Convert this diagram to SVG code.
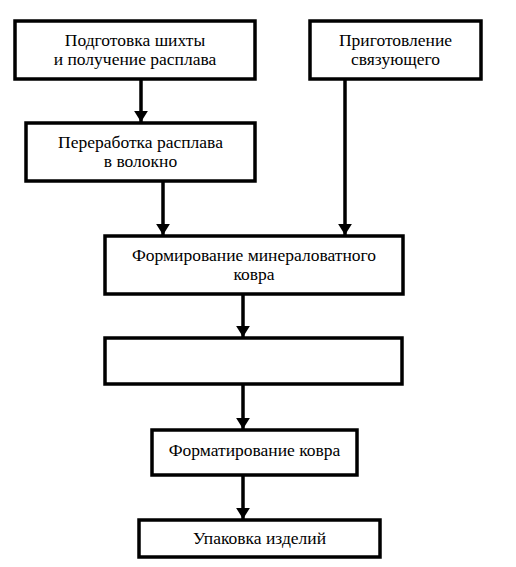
<svg xmlns="http://www.w3.org/2000/svg" width="516" height="567" viewBox="0 0 516 567">
<style>
.box{fill:#fff;stroke:#000;stroke-width:3.5}
.t{font-family:"Liberation Serif","Times New Roman","DejaVu Serif",serif;font-size:17.5px;fill:#000;text-anchor:middle}
.c{stroke:#000;stroke-width:3.5;fill:none}
</style>
<defs>
<marker id="ah" markerWidth="4" markerHeight="4" refX="3.2" refY="2" orient="auto" markerUnits="strokeWidth">
<path d="M0,0 L3.2,2 L0,4 Z" fill="#000"/>
</marker>
</defs>
<rect width="516" height="567" fill="#fff"/>
<g id="connectors">
<path class="c" d="M141,79 V122" marker-end="url(#ah)"/>
<path class="c" d="M163,181 V235" marker-end="url(#ah)"/>
<path class="c" d="M345,79 V235" marker-end="url(#ah)"/>
<path class="c" d="M243,294 V337" marker-end="url(#ah)"/>
<path class="c" d="M243,384 V429" marker-end="url(#ah)"/>
<path class="c" d="M243,475 V519" marker-end="url(#ah)"/>
</g>
<g id="n1">
<rect class="box" x="15" y="21" width="240" height="58"/>
<text class="t" x="135" y="46">Подготовка шихты</text>
<text class="t" x="135" y="65">и получение расплава</text>
</g>
<g id="n2">
<rect class="box" x="310" y="21" width="171" height="58"/>
<text class="t" x="395.5" y="46">Приготовление</text>
<text class="t" x="395.5" y="65">связующего</text>
</g>
<g id="n3">
<rect class="box" x="26" y="123" width="229" height="58"/>
<text class="t" x="140.5" y="148">Переработка расплава</text>
<text class="t" x="140.5" y="167">в волокно</text>
</g>
<g id="n4">
<rect class="box" x="105" y="236" width="298" height="58"/>
<text class="t" x="254" y="261">Формирование минераловатного</text>
<text class="t" x="254" y="280">ковра</text>
</g>
<g id="n5">
<rect class="box" x="105" y="338" width="297" height="46"/>
</g>
<g id="n6">
<rect class="box" x="152" y="430" width="205" height="45"/>
<text class="t" x="254.5" y="456">Форматирование ковра</text>
</g>
<g id="n7">
<rect class="box" x="139" y="520" width="241" height="37"/>
<text class="t" x="259.5" y="544">Упаковка изделий</text>
</g>
</svg>
